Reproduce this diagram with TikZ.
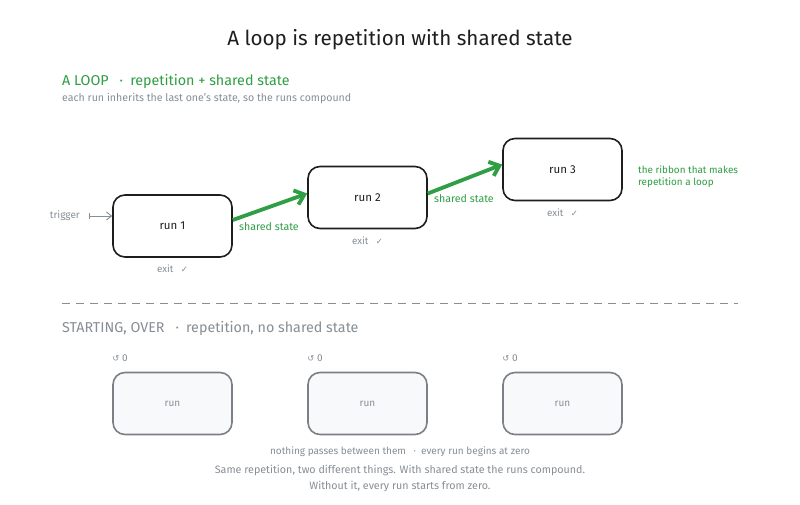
\documentclass[tikz,border=0pt]{standalone}
\usepackage{fontspec}
\setmainfont{Fira Sans}
\newfontfamily\symfont{DejaVu Sans}
\usetikzlibrary{arrows.meta,positioning}
\definecolor{inkgreen}{HTML}{2F9E44}
\definecolor{inkgray}{HTML}{868E96}
\definecolor{inkblack}{HTML}{1E1E1E}
\definecolor{idleline}{HTML}{7C8086}
\definecolor{paper}{HTML}{F8F9FA}
\tikzset{
  runbox/.style={draw=inkblack, line width=1.6pt, rounded corners=12pt, fill=white,
    minimum width=119pt, minimum height=62pt, text=inkblack, font=\fontsize{11.5}{13}\selectfont},
  idlebox/.style={runbox, draw=idleline, fill=paper, text=inkgray, font=\fontsize{10}{12}\selectfont},
  ribbon/.style={draw=inkgreen, line width=3.8pt, -{Straight Barb[length=9pt,width=15pt]}},
  note/.style={inner sep=0pt, text=inkgray, font=\fontsize{9.8}{11}\selectfont},
  greennote/.style={inner sep=0pt, text=inkgreen, font=\fontsize{10.6}{12}\selectfont, align=left},
  heading/.style={inner sep=0pt, anchor=west, font=\fontsize{14.3}{16}\selectfont}
}
\begin{document}
\begin{tikzpicture}[x=1pt, y=-1pt]
  \useasboundingbox[fill=white] (0,0) rectangle (800,505);
  \node[inner sep=0pt, text=inkblack, font=\fontsize{20.6}{24}\selectfont] (title) at (400,40) {A loop is repetition with shared state};

  % the loop
  \node[heading, text=inkgreen] (loophead) at (62,81) {A LOOP \enspace·\enspace repetition + shared state};
  \node[note, anchor=west, font=\fontsize{10.6}{12}\selectfont] (loopsub) at (62,98) {each run inherits the last one's state, so the runs compound};

  \node[runbox] (run1) at (172.5,226) {run 1};
  \node[runbox] (run2) at (367.5,197.5) {run 2};
  \node[runbox] (run3) at (562.5,169.5) {run 3};
  \foreach \r in {1,2,3}
    \node[note, below=7pt of run\r] (exit\r) {exit \enspace{\symfont\fontsize{8.5}{10}\selectfont ✓}};

  \node[note, anchor=east, font=\fontsize{10}{12}\selectfont] (trigger) at (80,216) {trigger};
  \draw[inkgray, line width=0.9pt, {Bar[width=6pt]}-{Straight Barb[length=5pt,width=8pt]}] ([xshift=9pt]trigger.east) -- (run1.west |- trigger.east);

  \draw[ribbon] ([yshift=6pt]run1.east) -- ([yshift=4pt]run2.west);
  \draw[ribbon] ([yshift=4pt]run2.east) -- ([yshift=5pt]run3.west);
  \node[greennote, anchor=west] (state1) at (239,227) {shared state};
  \node[greennote, anchor=west] (state2) at (434,199) {shared state};
  \node[greennote, anchor=west, font=\fontsize{9.9}{12}\selectfont] (ribbonnote) at (638,177) {the ribbon that makes\\repetition a loop};

  \draw[inkgray, line width=0.9pt, dash pattern=on 8pt off 6pt] (62,303) -- (738,303);

  % starting over
  \node[heading, text=inkgray] (overhead) at (62,328) {STARTING, OVER \enspace·\enspace repetition, no shared state};
  \foreach \r/\x in {1/172.5,2/367.5,3/562.5} {
    \node[idlebox] (idle\r) at (\x,403.5) {run};
    \node[note, anchor=south west, font=\fontsize{10}{11}\selectfont] (reset\r) at ([yshift=10pt]idle\r.north west) {{\symfont\fontsize{8.5}{10}\selectfont ↺} 0};
  }
  \node[note, font=\fontsize{10}{11}\selectfont] (apart) at (400,452) {nothing passes between them \enspace·\enspace every run begins at zero};
  \node[note, align=center, font=\fontsize{10.7}{16}\selectfont] (moral) at (400,478) {Same repetition, two different things. With shared state the runs compound.\\Without it, every run starts from zero.};
\end{tikzpicture}
\end{document}
